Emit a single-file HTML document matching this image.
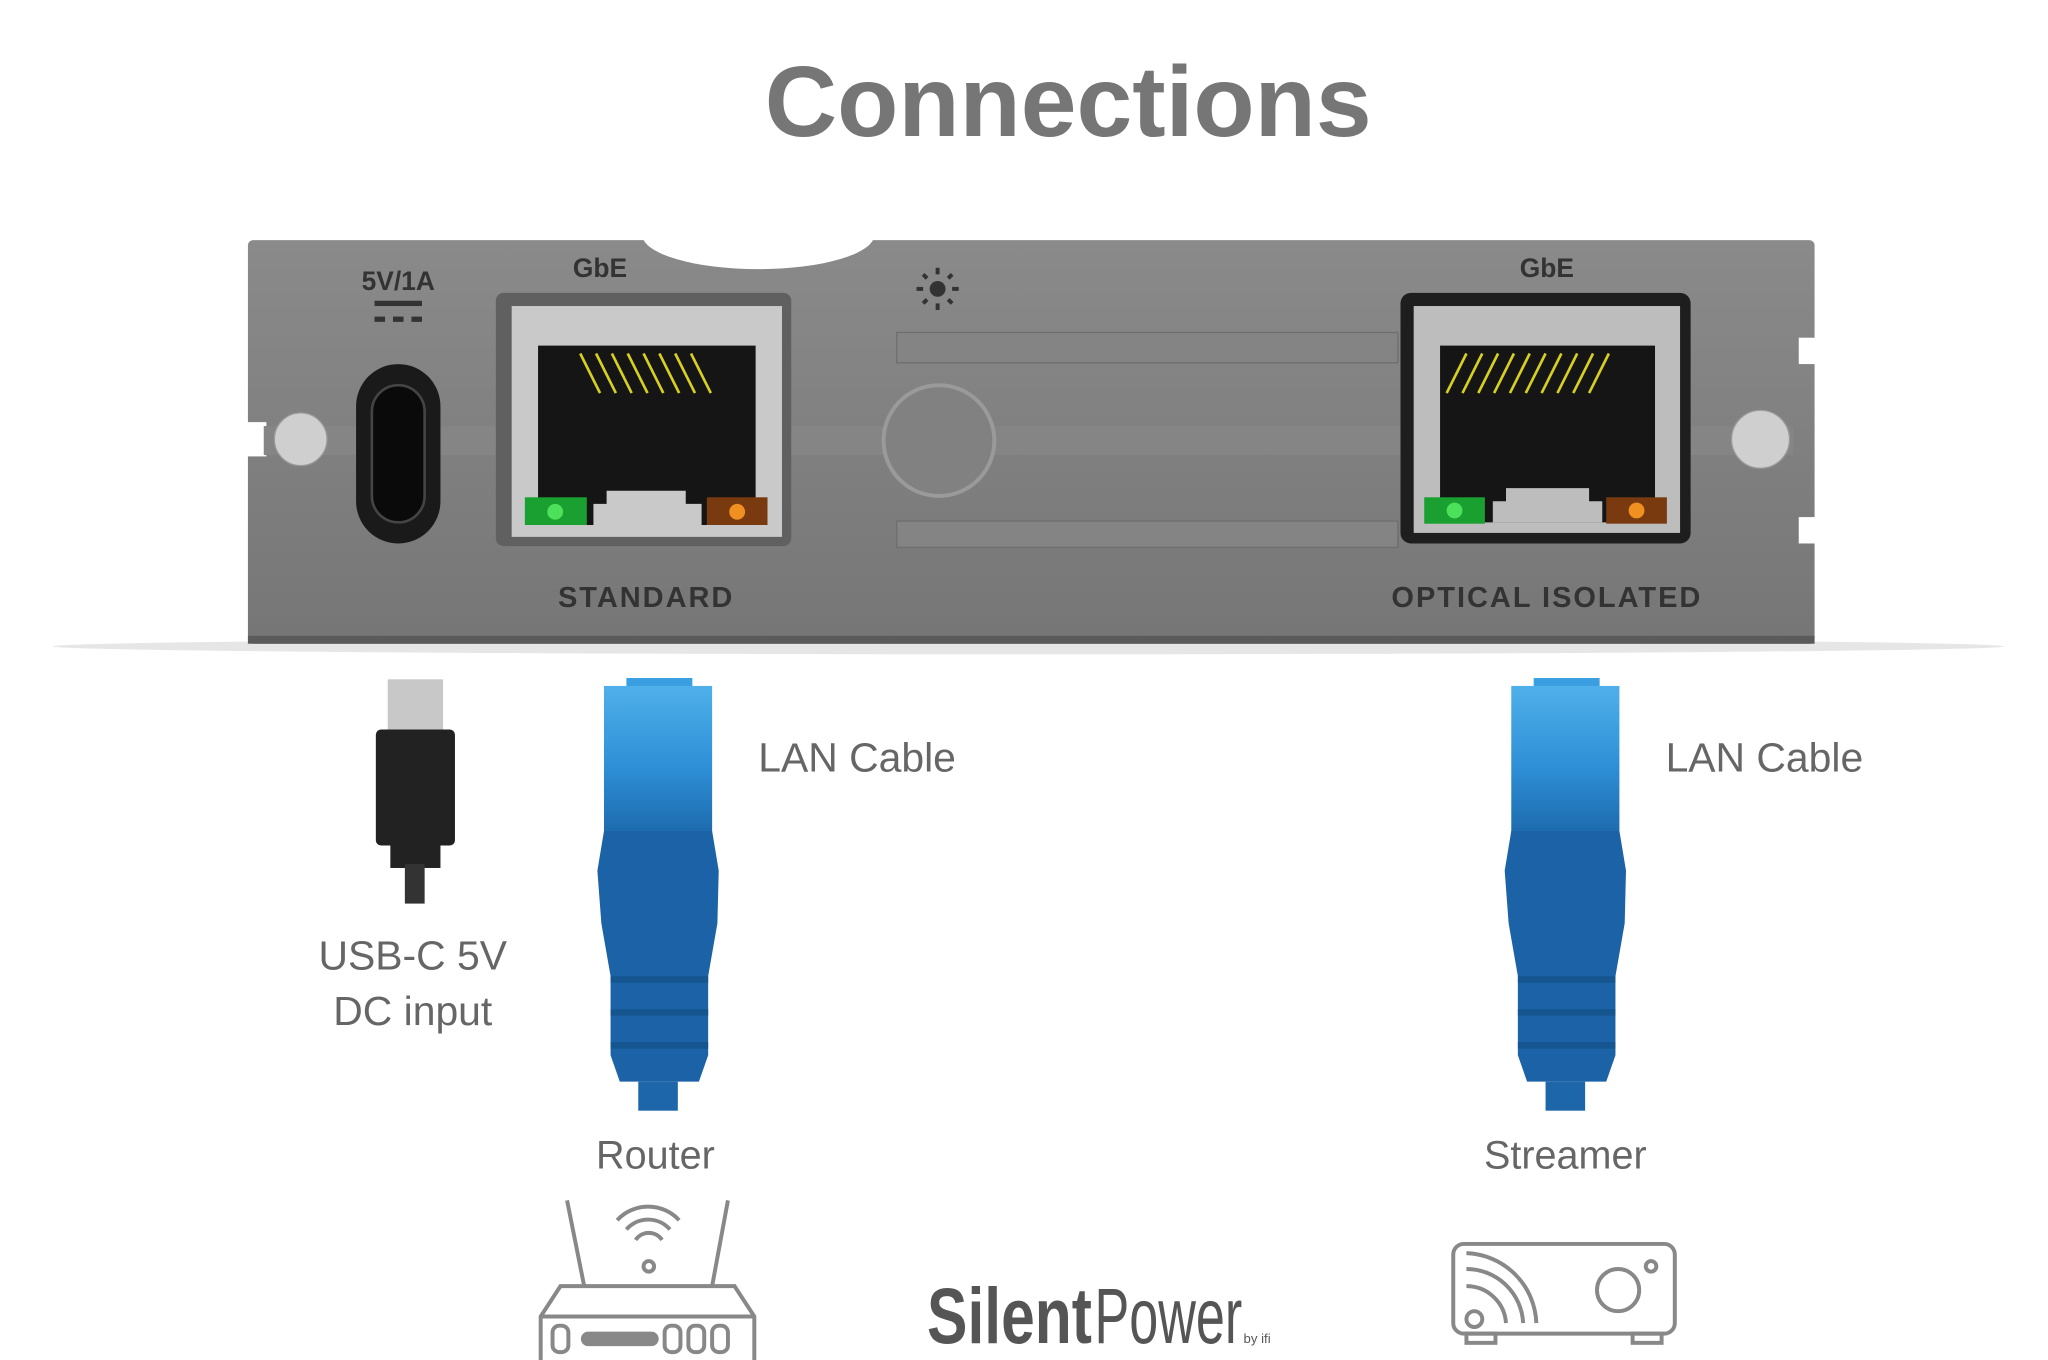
<!DOCTYPE html>
<html><head><meta charset="utf-8"><style>
html,body{margin:0;padding:0;background:#fff;}
svg{display:block;}
text{font-family:"Liberation Sans",sans-serif;}
</style></head><body>
<svg width="2048" height="1360" viewBox="0 0 1553 1031" preserveAspectRatio="none" xmlns="http://www.w3.org/2000/svg">
<defs>
<linearGradient id="plug" x1="0" y1="0" x2="0" y2="1">
<stop offset="0" stop-color="#4fb0ea"/><stop offset="0.55" stop-color="#2e8fd6"/><stop offset="1" stop-color="#1d6aad"/></linearGradient>
<linearGradient id="panel" x1="0" y1="0" x2="0" y2="1">
<stop offset="0" stop-color="#8a8a8a"/><stop offset="1" stop-color="#767676"/></linearGradient>
<g id="lan">
<rect x="475" y="514" width="50" height="8" fill="#3a9fe0"/>
<rect x="458" y="520" width="82" height="112" fill="url(#plug)"/>
<path d="M458 630 L540 630 L545 660 L544 700 L537 740 L537 800 L530 820 L470 820 L463 800 L463 740 L456 700 L453 660 Z" fill="#1c62a6"/>
<rect x="463" y="740" width="74" height="5" fill="#165690"/>
<rect x="463" y="765" width="74" height="5" fill="#165690"/>
<rect x="463" y="790" width="74" height="5" fill="#165690"/>
<rect x="484" y="820" width="30" height="22" fill="#1d66aa"/>
</g>
</defs>
<text x="810" y="103" text-anchor="middle" font-size="76" font-weight="bold" fill="#767676">Connections</text>
<!-- shadow -->
<ellipse cx="780" cy="490" rx="740" ry="6" fill="#e6e6e6"/>
<!-- panel -->
<rect x="188" y="182" width="1188" height="306" rx="4" fill="url(#panel)"/>
<rect x="188" y="482" width="1188" height="6" fill="#5a5a5a"/>
<ellipse cx="575" cy="178" rx="88" ry="26" fill="#fff"/>
<rect x="186" y="320" width="16" height="26" fill="#fff"/>
<rect x="1364" y="256" width="14" height="20" fill="#fff"/>
<rect x="1364" y="392" width="14" height="20" fill="#fff"/>
<rect x="200" y="323" width="1160" height="22" fill="#858585"/>
<!-- recess lines -->
<rect x="680" y="252" width="380" height="23" fill="#848484" stroke="#6e6e6e" stroke-width="1"/>
<rect x="680" y="395" width="380" height="20" fill="#848484" stroke="#6e6e6e" stroke-width="1"/>
<!-- screws -->
<circle cx="228" cy="333" r="20" fill="#cfcfcf" stroke="#999"/>
<circle cx="1335" cy="333" r="22" fill="#cfcfcf" stroke="#999"/>
<!-- USB-C -->
<text x="302" y="220" text-anchor="middle" font-size="20" font-weight="bold" fill="#333">5V/1A</text>
<rect x="284" y="228" width="36" height="4" fill="#333"/>
<rect x="284" y="240" width="8" height="4" fill="#333"/><rect x="298" y="240" width="8" height="4" fill="#333"/><rect x="312" y="240" width="8" height="4" fill="#333"/>
<rect x="270" y="276" width="64" height="136" rx="32" fill="#1a1a1a"/>
<rect x="282" y="292" width="40" height="104" rx="20" fill="#0a0a0a" stroke="#444" stroke-width="2"/>
<!-- left jack -->
<text x="455" y="210" text-anchor="middle" font-size="20" font-weight="bold" fill="#333">GbE</text>
<rect x="376" y="222" width="224" height="192" rx="6" fill="#606060"/>
<rect x="388" y="232" width="205" height="175" fill="#c9c9c9"/>
<rect x="408" y="262" width="165" height="136" fill="#151515"/>
<path d="M450 398 L450 382 L460 382 L460 372 L520 372 L520 382 L532 382 L532 398Z" fill="#c9c9c9"/>
<g stroke="#d8d020" stroke-width="2">
<line x1="440" y1="268" x2="455" y2="298"/><line x1="452" y1="268" x2="467" y2="298"/><line x1="464" y1="268" x2="479" y2="298"/><line x1="476" y1="268" x2="491" y2="298"/><line x1="488" y1="268" x2="503" y2="298"/><line x1="500" y1="268" x2="515" y2="298"/><line x1="512" y1="268" x2="527" y2="298"/><line x1="524" y1="268" x2="539" y2="298"/></g>
<rect x="398" y="377" width="47" height="21" fill="#1aa030"/><circle cx="421" cy="388" r="6" fill="#4de05a"/>
<rect x="536" y="377" width="46" height="21" fill="#7a3a10"/><circle cx="559" cy="388" r="6" fill="#f09020"/>
<text x="490" y="460" text-anchor="middle" font-size="22" font-weight="bold" fill="#333" letter-spacing="1.5">STANDARD</text>
<!-- sun -->
<circle cx="711" cy="219" r="6" fill="#333"/>
<g stroke="#333" stroke-width="3"><line x1="711" y1="203" x2="711" y2="208"/><line x1="711" y1="230" x2="711" y2="235"/><line x1="695" y1="219" x2="700" y2="219"/><line x1="722" y1="219" x2="727" y2="219"/><line x1="700" y1="208" x2="703" y2="211"/><line x1="719" y1="227" x2="722" y2="230"/><line x1="700" y1="230" x2="703" y2="227"/><line x1="719" y1="211" x2="722" y2="208"/></g>
<circle cx="712" cy="334" r="42" fill="#818181" stroke="#9a9a9a" stroke-width="3"/>
<!-- right jack -->
<text x="1173" y="210" text-anchor="middle" font-size="20" font-weight="bold" fill="#333">GbE</text>
<rect x="1062" y="222" width="220" height="190" rx="8" fill="#1e1e1e"/>
<rect x="1072" y="232" width="202" height="172" fill="#bdbdbd"/>
<rect x="1092" y="262" width="163" height="134" fill="#151515"/>
<path d="M1132 396 L1132 380 L1142 380 L1142 370 L1205 370 L1205 380 L1215 380 L1215 396Z" fill="#bdbdbd"/>
<g stroke="#d8d020" stroke-width="2">
<line x1="1112" y1="268" x2="1097" y2="298"/><line x1="1124" y1="268" x2="1109" y2="298"/><line x1="1136" y1="268" x2="1121" y2="298"/><line x1="1148" y1="268" x2="1133" y2="298"/><line x1="1160" y1="268" x2="1145" y2="298"/><line x1="1172" y1="268" x2="1157" y2="298"/><line x1="1184" y1="268" x2="1169" y2="298"/><line x1="1196" y1="268" x2="1181" y2="298"/><line x1="1208" y1="268" x2="1193" y2="298"/><line x1="1220" y1="268" x2="1205" y2="298"/></g>
<rect x="1080" y="377" width="46" height="20" fill="#1aa030"/><circle cx="1103" cy="387" r="6" fill="#4de05a"/>
<rect x="1218" y="377" width="46" height="20" fill="#7a3a10"/><circle cx="1241" cy="387" r="6" fill="#f09020"/>
<text x="1173" y="460" text-anchor="middle" font-size="22" font-weight="bold" fill="#333" letter-spacing="1.5">OPTICAL ISOLATED</text>
<!-- USB-C cable -->
<rect x="294" y="515" width="42" height="42" fill="#c8c8c8"/>
<rect x="285" y="553" width="60" height="88" rx="4" fill="#222"/>
<rect x="296" y="638" width="38" height="20" fill="#222"/>
<rect x="307" y="655" width="15" height="30" fill="#333"/>
<text x="313" y="735" text-anchor="middle" font-size="31" fill="#666">USB-C 5V</text>
<text x="313" y="777" text-anchor="middle" font-size="31" fill="#666">DC input</text>
<!-- LAN -->
<use href="#lan"/>
<use href="#lan" x="688"/>
<text x="575" y="585" font-size="31" fill="#666">LAN Cable</text>
<text x="1263" y="585" font-size="31" fill="#666">LAN Cable</text>
<text x="497" y="886" text-anchor="middle" font-size="30" fill="#666">Router</text>
<text x="1187" y="886" text-anchor="middle" font-size="30" fill="#666">Streamer</text>
<!-- router icon -->
<g fill="none" stroke="#888" stroke-width="3">
<path d="M430 910 L443 975 M552 910 L540 975"/>
<path d="M475 932 A22 22 0 0 1 508 932 M468 925 A32 32 0 0 1 515 925 M482 940 A12 12 0 0 1 502 940"/>
<circle cx="492" cy="960" r="4"/>
<path d="M425 975 L557 975 L572 998 L572 1035 L410 1035 L410 998 Z M410 998 L572 998"/>
<rect x="419" y="1005" width="12" height="20" rx="5"/><rect x="442" y="1011" width="56" height="8" rx="4" fill="#888"/>
<rect x="504" y="1005" width="12" height="20" rx="5"/><rect x="522" y="1005" width="12" height="20" rx="5"/><rect x="540" y="1005" width="12" height="20" rx="5"/>
</g>
<!-- logo -->
<text x="703" y="1018" font-size="60" font-weight="bold" fill="#555" textLength="125" lengthAdjust="spacingAndGlyphs">Silent</text>
<text x="830" y="1018" font-size="60" fill="#555" textLength="112" lengthAdjust="spacingAndGlyphs">Power</text>
<text x="943" y="1018" font-size="10" fill="#555">by ifi</text>
<!-- streamer icon -->
<g fill="none" stroke="#888" stroke-width="3">
<rect x="1102" y="943" width="168" height="68" rx="8"/>
<rect x="1112" y="1011" width="22" height="7"/><rect x="1238" y="1011" width="22" height="7"/>
<circle cx="1227" cy="978" r="16"/><circle cx="1252" cy="960" r="4"/>
<circle cx="1118" cy="1000" r="6"/>
<path d="M1112 975 A30 30 0 0 1 1142 1003 M1112 962 A43 43 0 0 1 1155 1003 M1112 950 A55 55 0 0 1 1165 1003"/>
</g>
</svg>
</body></html>
